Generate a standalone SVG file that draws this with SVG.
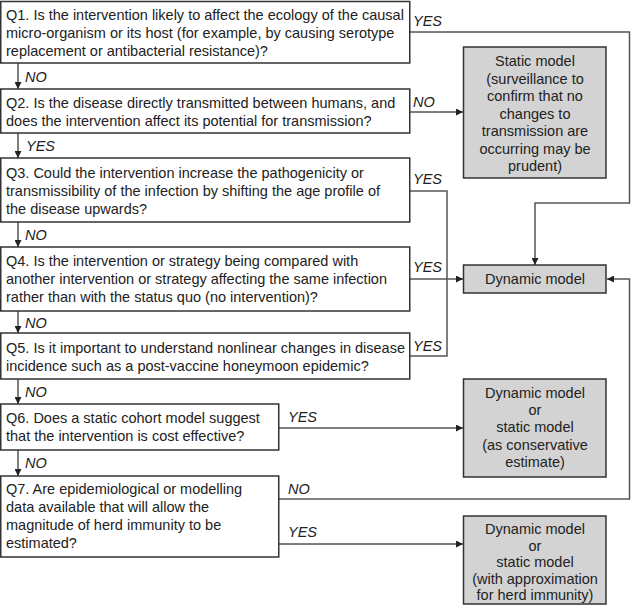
<svg xmlns="http://www.w3.org/2000/svg" width="631" height="614" viewBox="0 0 631 614">
<defs>
<style>
.q{fill:#fff;stroke:#333;stroke-width:1.5}
.r{fill:#d3d3d3;stroke:#333;stroke-width:1.5}
.t{font-family:"Liberation Sans",Arial,sans-serif;font-size:14.5px;fill:#222}
.c{text-anchor:middle}
.l{font-family:"Liberation Sans",Arial,sans-serif;font-size:14.5px;font-style:italic;fill:#222}
.w{fill:none;stroke:#555;stroke-width:1.5}
</style>
<marker id="ah" viewBox="0 0 10 10" refX="10" refY="5" markerWidth="7" markerHeight="7" markerUnits="userSpaceOnUse" orient="auto"><path d="M0,0 L10,5 L0,10 z" fill="#222"/></marker>
</defs>
<g id="connectors">
<path class="w" d="M18,63 V89" marker-end="url(#ah)"/>
<path class="w" d="M18,133 V158" marker-end="url(#ah)"/>
<path class="w" d="M18,222 V247" marker-end="url(#ah)"/>
<path class="w" d="M18,311 V333" marker-end="url(#ah)"/>
<path class="w" d="M18,379 V404" marker-end="url(#ah)"/>
<path class="w" d="M18,450 V476" marker-end="url(#ah)"/>
<path class="w" d="M410,32 H629.5 V203 H535 V265" marker-end="url(#ah)"/>
<path class="w" d="M410,112 H463" marker-end="url(#ah)"/>
<path class="w" d="M410,191 H447 V356 H410"/>
<path class="w" d="M410,279 H463" marker-end="url(#ah)"/>
<path class="w" d="M279,428 H463" marker-end="url(#ah)"/>
<path class="w" d="M279,499 H629.5 V279 H607" marker-end="url(#ah)"/>
<path class="w" d="M279,544 H463" marker-end="url(#ah)"/>
<text class="l" x="413" y="26">YES</text>
<text class="l" x="25" y="82">NO</text>
<text class="l" x="413" y="107">NO</text>
<text class="l" x="26" y="151">YES</text>
<text class="l" x="413" y="184">YES</text>
<text class="l" x="25" y="240">NO</text>
<text class="l" x="413" y="272">YES</text>
<text class="l" x="25" y="328">NO</text>
<text class="l" x="413" y="351">YES</text>
<text class="l" x="25" y="397">NO</text>
<text class="l" x="288" y="422">YES</text>
<text class="l" x="25" y="468">NO</text>
<text class="l" x="288" y="494">NO</text>
<text class="l" x="288" y="537">YES</text>
</g>
<g id="q1">
<rect class="q" x="0.75" y="1.5" width="409" height="61.5"/>
<text class="t" x="6" y="20">Q1. Is the intervention likely to affect the ecology of the causal</text>
<text class="t" x="6" y="38">micro-organism or its host (for example, by causing serotype</text>
<text class="t" x="6" y="56">replacement or antibacterial resistance)?</text>
</g>
<g id="q2">
<rect class="q" x="0.75" y="89" width="409" height="44"/>
<text class="t" x="6" y="108">Q2. Is the disease directly transmitted between humans, and</text>
<text class="t" x="6" y="126">does the intervention affect its potential for transmission?</text>
</g>
<g id="q3">
<rect class="q" x="0.75" y="158" width="409" height="64"/>
<text class="t" x="6" y="178">Q3. Could the intervention increase the pathogenicity or</text>
<text class="t" x="6" y="196">transmissibility of the infection by shifting the age profile of</text>
<text class="t" x="6" y="214">the disease upwards?</text>
</g>
<g id="q4">
<rect class="q" x="0.75" y="247" width="409" height="64"/>
<text class="t" x="6" y="266">Q4. Is the intervention or strategy being compared with</text>
<text class="t" x="6" y="284">another intervention or strategy affecting the same infection</text>
<text class="t" x="6" y="302">rather than with the status quo (no intervention)?</text>
</g>
<g id="q5">
<rect class="q" x="0.75" y="333" width="409" height="46"/>
<text class="t" x="6" y="353">Q5. Is it important to understand nonlinear changes in disease</text>
<text class="t" x="6" y="371">incidence such as a post-vaccine honeymoon epidemic?</text>
</g>
<g id="q6">
<rect class="q" x="0.75" y="404" width="278" height="46"/>
<text class="t" x="6" y="423">Q6. Does a static cohort model suggest</text>
<text class="t" x="6" y="441">that the intervention is cost effective?</text>
</g>
<g id="q7">
<rect class="q" x="0.75" y="476" width="278" height="81"/>
<text class="t" x="6" y="494">Q7. Are epidemiological or modelling</text>
<text class="t" x="6" y="512">data available that will allow the</text>
<text class="t" x="6" y="530">magnitude of herd immunity to be</text>
<text class="t" x="6" y="548">estimated?</text>
</g>
<g id="static">
<rect class="r" x="463.5" y="47" width="142.5" height="131"/>
<text class="t c" x="535" y="66">Static model</text>
<text class="t c" x="535" y="83.5">(surveillance to</text>
<text class="t c" x="535" y="101">confirm that no</text>
<text class="t c" x="535" y="118.5">changes to</text>
<text class="t c" x="535" y="136">transmission are</text>
<text class="t c" x="535" y="153.5">occurring may be</text>
<text class="t c" x="535" y="171">prudent)</text>
</g>
<g id="dynamic">
<rect class="r" x="463.5" y="265" width="142.5" height="28"/>
<text class="t c" x="535" y="284">Dynamic model</text>
</g>
<g id="conservative">
<rect class="r" x="463.5" y="379" width="142.5" height="98"/>
<text class="t c" x="535" y="398">Dynamic model</text>
<text class="t c" x="535" y="415">or</text>
<text class="t c" x="535" y="432">static model</text>
<text class="t c" x="535" y="450">(as conservative</text>
<text class="t c" x="535" y="467">estimate)</text>
</g>
<g id="herd">
<rect class="r" x="463.5" y="516" width="142.5" height="88"/>
<text class="t c" x="535" y="534">Dynamic model</text>
<text class="t c" x="535" y="550.5">or</text>
<text class="t c" x="535" y="567">static model</text>
<text class="t c" x="535" y="583.5">(with approximation</text>
<text class="t c" x="535" y="600">for herd immunity)</text>
</g>
</svg>
